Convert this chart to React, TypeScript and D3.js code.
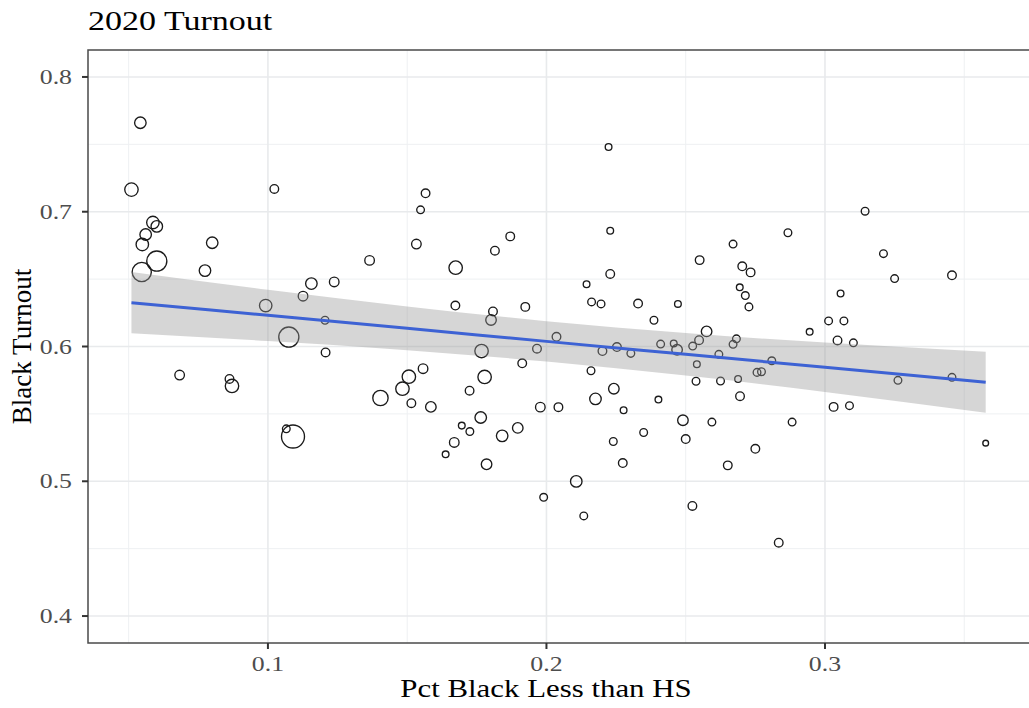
import React from "react";
import * as d3 from "d3";

const pctBlackLessHS = [
  0.0542, 0.0510, 0.1023, 0.0587, 0.0601, 0.0561, 0.0549, 0.0601, 0.0547, 0.0800,
  0.0774, 0.1156, 0.1238, 0.1126, 0.0992, 0.1075, 0.1205, 0.1207, 0.0683, 0.0862,
  0.0871, 0.1066, 0.1090, 0.1566, 0.1548, 0.1533, 0.1365, 0.1674, 0.1870, 0.1815,
  0.1673, 0.1808, 0.1801, 0.1924, 0.2036, 0.1767, 0.1966, 0.1913, 0.1557, 0.1506,
  0.1778, 0.1483, 0.1404, 0.1724, 0.1515, 0.1585, 0.1978, 0.2043, 0.1764, 0.1696,
  0.1725, 0.1897, 0.1841, 0.1669, 0.1638, 0.1785, 0.2107, 0.1990, 0.2134, 0.2223,
  0.2229, 0.2867, 0.2670, 0.2550, 0.2229, 0.2703, 0.2733, 0.2144, 0.2694, 0.2714,
  0.2727, 0.2162, 0.2196, 0.2329, 0.2472, 0.2386, 0.2945, 0.2575, 0.2201, 0.2253,
  0.2303, 0.2410, 0.2457, 0.2469, 0.2525, 0.2548, 0.2682, 0.2670, 0.2619, 0.2540,
  0.2809, 0.2756, 0.2772, 0.2160, 0.2242, 0.2176, 0.2277, 0.2402, 0.2537, 0.2625,
  0.2688, 0.2695, 0.2490, 0.2594, 0.2882, 0.2349, 0.2240, 0.2500, 0.2750, 0.2274,
  0.2651, 0.2524, 0.2834, 0.3144, 0.3210, 0.3250, 0.3456, 0.3056, 0.3013, 0.3068,
  0.3045, 0.3102, 0.3262, 0.3456, 0.3031, 0.3088, 0.3577,
];

const blackTurnout = [
  0.766, 0.7164, 0.7169, 0.692, 0.6891, 0.6831, 0.6757, 0.6634, 0.6553, 0.677,
  0.6563, 0.6467, 0.6479, 0.6373, 0.6304, 0.607, 0.6195, 0.5956, 0.5788, 0.5759,
  0.5707, 0.5389, 0.5332, 0.7137, 0.7014, 0.676, 0.6639, 0.6585, 0.6817, 0.6711,
  0.6304, 0.626, 0.6197, 0.6294, 0.6072, 0.5966, 0.5984, 0.5875, 0.5835, 0.5776,
  0.5774, 0.5687, 0.5618, 0.5672, 0.5579, 0.5552, 0.555, 0.555, 0.5473, 0.5413,
  0.5369, 0.5396, 0.5337, 0.5288, 0.52, 0.5126, 0.4999, 0.4881, 0.4743, 0.748,
  0.6859, 0.6844, 0.676, 0.6641, 0.6538, 0.6595, 0.655, 0.6462, 0.6439, 0.6378,
  0.6294, 0.6331, 0.6316, 0.6319, 0.6316, 0.6195, 0.6109, 0.6112, 0.5966, 0.5996,
  0.5949, 0.6018, 0.6023, 0.5976, 0.6003, 0.6047, 0.6057, 0.6016, 0.5942, 0.5868,
  0.5894, 0.5808, 0.5813, 0.582, 0.5687, 0.5611, 0.5527, 0.5606, 0.5742, 0.5744,
  0.5759, 0.5631, 0.5453, 0.5439, 0.5439, 0.5362, 0.5295, 0.5313, 0.5241, 0.5135,
  0.5118, 0.4817, 0.4544, 0.7004, 0.6689, 0.6504, 0.6528, 0.6393, 0.619, 0.619,
  0.6045, 0.6027, 0.5749, 0.5771, 0.5552, 0.5561, 0.5283,
];

const population = [
  360, 490, 202, 422, 360, 360, 422, 1102, 1000, 360,
  360, 360, 250, 250, 422, 1102, 160, 202, 250, 202,
  490, 160, 1440, 202, 160, 250, 250, 490, 202, 202,
  202, 202, 302, 202, 202, 490, 202, 202, 250, 490,
  490, 490, 640, 202, 202, 302, 250, 202, 360, 122,
  160, 302, 360, 250, 122, 302, 360, 160, 160, 122,
  122, 160, 160, 202, 202, 202, 202, 122, 122, 160,
  160, 160, 160, 202, 122, 160, 122, 302, 202, 202,
  160, 160, 122, 302, 160, 202, 160, 160, 160, 122,
  160, 160, 160, 160, 302, 360, 122, 122, 160, 160,
  122, 202, 302, 160, 160, 160, 160, 202, 202, 202,
  202, 202, 202, 160, 160, 160, 202, 122, 160, 160,
  202, 160, 160, 160, 202, 160, 90,
];

const smoothX = [0.051, 0.1, 0.15, 0.2, 0.25, 0.3, 0.3577];
const smoothFit = [0.6325, 0.6231, 0.6135, 0.6038, 0.5942, 0.5846, 0.5735];
const smoothLower = [0.6098, 0.6041, 0.5973, 0.5888, 0.5784, 0.5663, 0.5509];
const smoothUpper = [0.6552, 0.6421, 0.6297, 0.6188, 0.61, 0.6029, 0.5961];

const xMajor = [0.1, 0.2, 0.3];
const xMinor = [0.05, 0.15, 0.25, 0.35];
const yMajor = [0.4, 0.5, 0.6, 0.7, 0.8];
const yMinor = [0.45, 0.55, 0.65, 0.75];

const W = 1029;
const H = 708;
const P = { left: 88, right: 1040, top: 50, bottom: 643 };
const FONT = "'Liberation Serif', 'DejaVu Serif', serif";
const SX = 1.26;

function WideText(props: {
  x: number;
  y: number;
  size: number;
  anchor?: string;
  fill?: string;
  dy?: string;
  children: React.ReactNode;
}) {
  return (
    <g transform={`translate(${props.x},${props.y}) scale(${SX},1)`}>
      <text
        x={0}
        y={0}
        dy={props.dy}
        fontSize={props.size}
        textAnchor={props.anchor || "start"}
        fill={props.fill || "#000"}
      >
        {props.children}
      </text>
    </g>
  );
}

export default function App() {
  const x = d3.scaleLinear().domain([0.0354, 0.3772]).range([P.left, P.right]);
  const y = d3.scaleLinear().domain([0.38, 0.82]).range([P.bottom, P.top]);
  const r = d3.scaleSqrt().domain([0, 1440]).range([0, 11.5]);

  const band = d3
    .area<number>()
    .x((_, i) => x(smoothX[i]))
    .y0((_, i) => y(smoothLower[i]))
    .y1((_, i) => y(smoothUpper[i]))
    .curve(d3.curveMonotoneX);
  const line = d3
    .line<number>()
    .x((_, i) => x(smoothX[i]))
    .y((d) => y(d))
    .curve(d3.curveMonotoneX);

  const pts = pctBlackLessHS.map((v, i) => ({ px: v, py: blackTurnout[i], pop: population[i] }));

  return (
    <svg
      width={W}
      height={H}
      style={{ position: "absolute", left: 0, top: 0, background: "#fff" }}
      fontFamily={FONT}
    >
      <rect x={0} y={0} width={W} height={H} fill="#fff" />
      <WideText x={88} y={30} size={27}>2020 Turnout</WideText>

      {/* gridlines */}
      {yMinor.map((v) => (
        <line key={"ym" + v} x1={P.left} x2={P.right} y1={y(v)} y2={y(v)} stroke="#eef0f2" strokeWidth={1} />
      ))}
      {xMinor.map((v) => (
        <line key={"xm" + v} x1={x(v)} x2={x(v)} y1={P.top} y2={P.bottom} stroke="#eef0f2" strokeWidth={1} />
      ))}
      {yMajor.map((v) => (
        <line key={"yM" + v} x1={P.left} x2={P.right} y1={y(v)} y2={y(v)} stroke="#e8eaec" strokeWidth={1.6} />
      ))}
      {xMajor.map((v) => (
        <line key={"xM" + v} x1={x(v)} x2={x(v)} y1={P.top} y2={P.bottom} stroke="#e8eaec" strokeWidth={1.6} />
      ))}

      {/* points */}
      {pts.map((d, i) => (
        <circle
          key={i}
          cx={x(d.px)}
          cy={y(d.py)}
          r={r(d.pop)}
          fill="none"
          stroke="#1a1a1a"
          strokeWidth={1.35}
        />
      ))}

      {/* smooth */}
      <path d={band(smoothX) || ""} fill="#999999" fillOpacity={0.4} />
      <path d={line(smoothFit) || ""} fill="none" stroke="#3d62d4" strokeWidth={3} />

      {/* panel border */}
      <rect
        x={P.left}
        y={P.top}
        width={P.right - P.left}
        height={P.bottom - P.top}
        fill="none"
        stroke="#4a4a4a"
        strokeWidth={1.5}
      />

      {/* y axis */}
      {yMajor.map((v) => (
        <g key={"yt" + v}>
          <line x1={P.left - 6} x2={P.left} y1={y(v)} y2={y(v)} stroke="#333" strokeWidth={2} />
          <WideText x={72} y={y(v)} dy="0.35em" anchor="end" size={20.5} fill="#4d4d4d">
            {v.toFixed(1)}
          </WideText>
        </g>
      ))}
      {/* x axis */}
      {xMajor.map((v) => (
        <g key={"xt" + v}>
          <line x1={x(v)} x2={x(v)} y1={P.bottom} y2={P.bottom + 6} stroke="#333" strokeWidth={2} />
          <WideText x={x(v)} y={671} anchor="middle" size={20.5} fill="#4d4d4d">
            {v.toFixed(1)}
          </WideText>
        </g>
      ))}

      <WideText x={546} y={697} anchor="middle" size={24.5}>
        Pct Black Less than HS
      </WideText>
      <text
        transform={`translate(31, ${(P.top + P.bottom) / 2}) rotate(-90)`}
        textAnchor="middle"
        fontSize={27}
        fill="#000"
      >
        Black Turnout
      </text>
    </svg>
  );
}
